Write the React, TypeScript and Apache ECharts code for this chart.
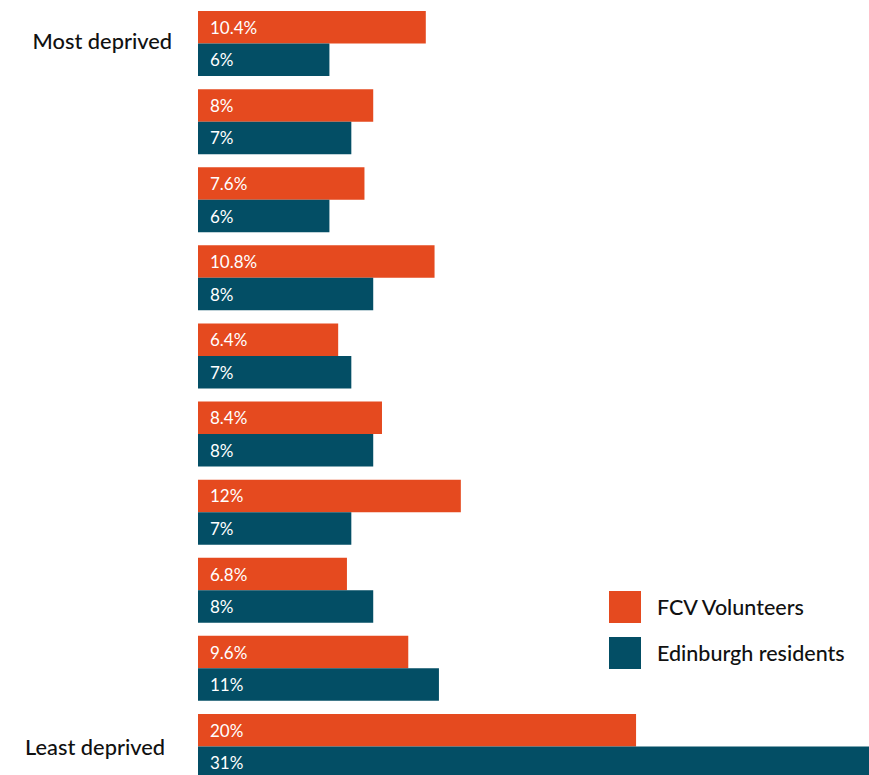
import React, { useEffect, useRef } from "react";
import * as echarts from "echarts";

const categories = ["1", "2", "3", "4", "5", "6", "7", "8", "9", "10"];
const categoryLabels: Record<string, string> = { "1": "Most deprived", "10": "Least deprived" };
const fcvVolunteers = [10.4, 8, 7.6, 10.8, 6.4, 8.4, 12, 6.8, 9.6, 20];
const edinburghResidents = [6, 7, 6, 8, 7, 8, 7, 8, 11, 31];
const seriesNames = ["FCV Volunteers", "Edinburgh residents"];
const colors = ["#E54A1F", "#034E65"];

const FONT = "Lato, 'Open Sans', sans-serif";

export default function App() {
  const ref = useRef<HTMLDivElement>(null);
  useEffect(() => {
    if (!ref.current) return;
    const chart = echarts.init(ref.current, undefined, { renderer: "svg" });
    const label = {
      show: true,
      position: "insideLeft" as const,
      distance: 12,
      color: "#ffffff",
      fontSize: 17,
      fontFamily: FONT,
      formatter: (p: any) => `${p.value}%`,
    };
    chart.setOption({
      animation: false,
      grid: { left: 198, width: 679, top: 4.5, height: 781 },
      xAxis: {
        type: "value",
        min: 0,
        max: 31,
        show: false,
      },
      yAxis: {
        type: "category",
        data: categories,
        inverse: true,
        axisLine: { show: false },
        axisTick: { show: false },
        splitLine: { show: false },
        axisLabel: {
          margin: 26,
          interval: 0,
          formatter: (v: string) =>
            v === "10" ? `{b|${categoryLabels[v]}}` : categoryLabels[v] ? `{a|${categoryLabels[v]}}` : "",
          rich: {
            a: { fontSize: 21.8, fontFamily: FONT, fontWeight: 500, color: "#111", padding: [0, 0, 6, 0] },
            b: { fontSize: 21.8, fontFamily: FONT, fontWeight: 500, color: "#111", padding: [0, 7, 0, 0] },
          },
        },
      },
      legend: {
        orient: "vertical",
        left: 609,
        top: 591,
        padding: 0,
        itemWidth: 32,
        itemHeight: 32,
        itemGap: 14,
        icon: "rect",
        data: seriesNames,
        textStyle: { fontSize: 21.5, fontFamily: FONT, fontWeight: 500, color: "#111", padding: [0, 0, 0, 11] },
      },
      series: [
        {
          name: seriesNames[0],
          type: "bar",
          data: fcvVolunteers,
          barWidth: 32.5,
          barGap: "0%",
          itemStyle: { color: colors[0] },
          label,
        },
        {
          name: seriesNames[1],
          type: "bar",
          data: edinburghResidents,
          barWidth: 32.5,
          barGap: "0%",
          itemStyle: { color: colors[1] },
          label,
        },
      ],
    });
    return () => chart.dispose();
  }, []);
  return (
    <div
      ref={ref}
      style={{ position: "fixed", left: 0, top: 0, width: 900, height: 800, background: "#fff" }}
    />
  );
}
